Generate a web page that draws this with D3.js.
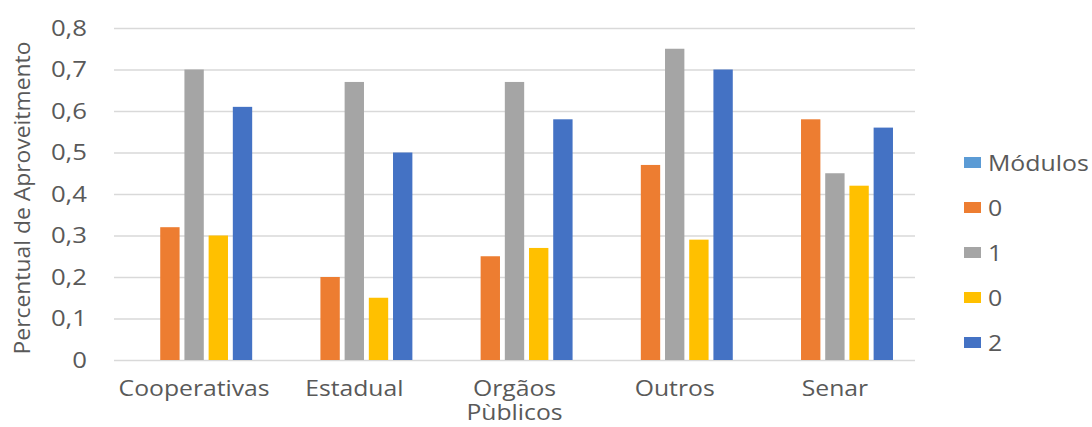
<!DOCTYPE html>
<html>
<head>
<meta charset="utf-8">
<script src="https://cdn.jsdelivr.net/npm/d3@7"></script>
<style>
  body { margin: 0; background: #fff; }
  svg { font-family: "Open Sans", sans-serif; }
  text { fill: #595959; }
</style>
</head>
<body>
<main></main>
<script>
// data
const categories = ['Cooperativas', 'Estadual', 'Orgãos Pùblicos', 'Outros', 'Senar']
const seriesNames = ['Módulos', '0', '1', '0', '2']
const seriesColors = ['#5B9BD5', '#ED7D31', '#A5A5A5', '#FFC000', '#4472C4']
const modulos = [null, null, null, null, null]
const s0a = [0.32, 0.20, 0.25, 0.47, 0.58]
const s1 = [0.70, 0.67, 0.67, 0.75, 0.45]
const s0b = [0.30, 0.15, 0.27, 0.29, 0.42]
const s2 = [0.61, 0.50, 0.58, 0.70, 0.56]
const yTicks = [0, 0.1, 0.2, 0.3, 0.4, 0.5, 0.6, 0.7, 0.8]
const yTickLabels = ['0', '0,1', '0,2', '0,3', '0,4', '0,5', '0,6', '0,7', '0,8']
const yTitle = 'Percentual de Aproveitmento'

const series = [modulos, s0a, s1, s0b, s2]

const width = 1092
const height = 427
const margin = {top: 28, right: 177, bottom: 67, left: 114}
const plotW = width - margin.left - margin.right
const plotH = height - margin.top - margin.bottom
const sx = 1.13 // the text in the picture is a bit wider than the font

const x0 = d3.scaleBand().domain(categories).range([0, plotW]).padding(0)
const x1 = d3.scaleBand().domain(d3.range(series.length))
  .range([0, x0.bandwidth()]).paddingInner(0.2).paddingOuter(0.91)
const y = d3.scaleLinear().domain([0, 0.8]).range([plotH, 0])

const svg = d3.select('main').append('svg')
  .attr('width', width)
  .attr('height', height)

const g = svg.append('g')
  .attr('transform', `translate(${margin.left},${margin.top})`)

// gridlines + tick labels
const yAxis = g.append('g')
  .call(d3.axisLeft(y).tickValues(yTicks).tickSize(-plotW).tickPadding(27)
    .tickFormat((d, i) => yTickLabels[i]))
yAxis.select('.domain').remove()
yAxis.selectAll('line').attr('stroke', '#d9d9d9').attr('stroke-width', 1.5)
yAxis.selectAll('text')
  .attr('x', 0)
  .attr('transform', `translate(-27,0) scale(${sx + 0.04},1)`)
  .attr('font-size', 22)
  .attr('fill', '#595959')
  .attr('font-family', '"Open Sans", sans-serif')

// bars
const rows = categories.map((c, ci) => ({
  name: c,
  vals: series.map((s, si) => ({key: si, value: s[ci]}))
}))

g.append('g')
  .selectAll('g')
  .data(rows)
  .enter().append('g')
    .attr('transform', d => `translate(${x0(d.name)},0)`)
  .selectAll('rect')
  .data(d => d.vals.filter(v => v.value != null))
  .enter().append('rect')
    .attr('x', d => x1(d.key))
    .attr('width', x1.bandwidth())
    .attr('y', d => y(d.value))
    .attr('height', d => plotH - y(d.value))
    .attr('fill', d => seriesColors[d.key])

// category labels
const xl = g.append('g')
  .selectAll('text')
  .data(categories)
  .enter().append('text')
    .attr('text-anchor', 'middle')
    .attr('font-size', 21.5)
    .attr('transform', d => `translate(${x0(d) + x0.bandwidth() / 2},${plotH + 36}) scale(${sx + 0.02},1)`)
xl.each(function (d) {
  const t = d3.select(this)
  d.split(' ').forEach((w, i) => {
    t.append('tspan')
      .attr('x', 0)
      .attr('dy', i ? 24 : 0)
      .text(w)
  })
})

// y title
svg.append('text')
  .attr('transform', `translate(30,${margin.top + plotH / 2 + 4}) rotate(-90) scale(1.09,1)`)
  .attr('text-anchor', 'middle')
  .attr('font-size', 21)
  .text(yTitle)

// legend
const legend = svg.append('g')
  .attr('transform', 'translate(964,163)')
  .selectAll('g')
  .data(seriesNames)
  .enter().append('g')
    .attr('transform', (d, i) => `translate(0,${i * 45})`)

legend.append('rect')
  .attr('y', -6)
  .attr('width', 17)
  .attr('height', 11)
  .attr('fill', (d, i) => seriesColors[i])

legend.append('text')
  .attr('transform', `translate(24,0) scale(${sx},1)`)
  .attr('dy', '0.35em')
  .attr('font-size', 22)
  .text(d => d)
</script>
</body>
</html>
